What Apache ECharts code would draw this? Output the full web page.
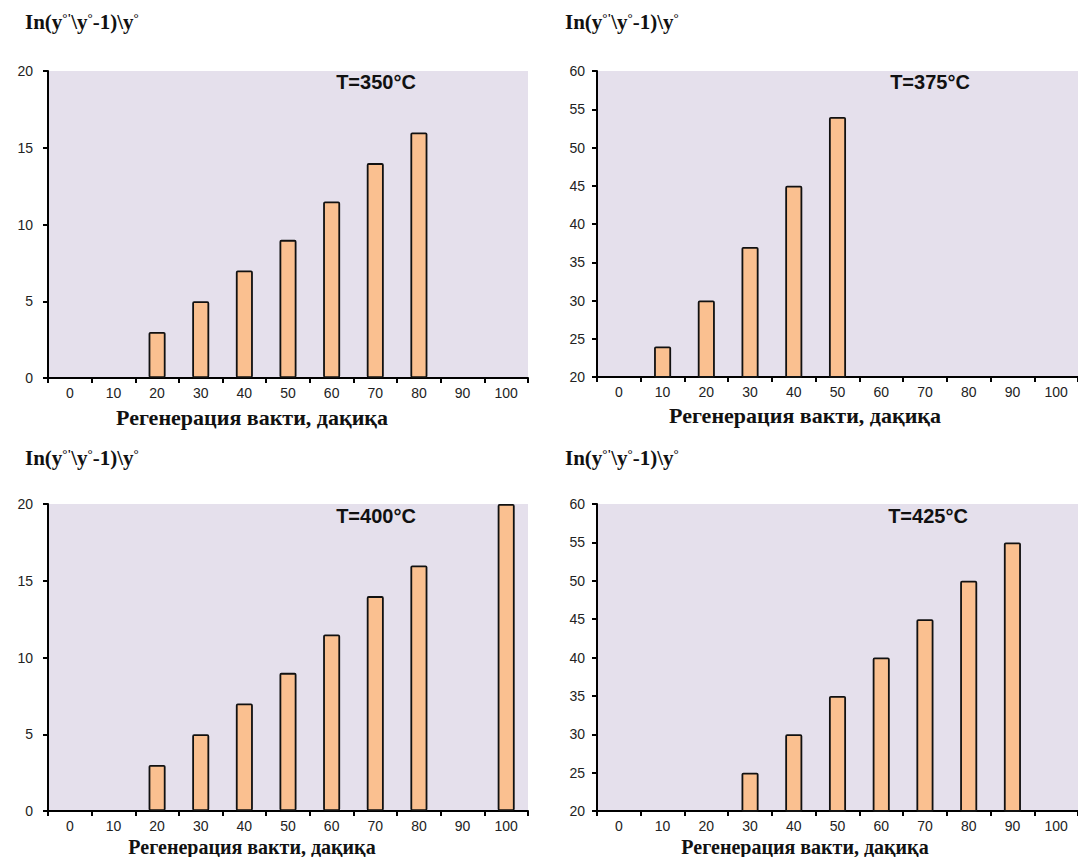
<!DOCTYPE html>
<html>
<head>
<meta charset="utf-8">
<script src="https://cdn.jsdelivr.net/npm/echarts@6/dist/echarts.min.js"></script>
<style>
  html, body { margin: 0; padding: 0; background: #fff; }
  #chart { width: 1078px; height: 857px; }
</style>
</head>
<body>
<div id="chart"></div>
<script>
// категории (регенерация вакти, дақиқа)
var categories = ['0', '10', '20', '30', '40', '50', '60', '70', '80', '90', '100'];

// T=350°C
var values350 = [null, null, 3, 5, 7, 9, 11.5, 14, 16, null, null];
// T=375°C
var values375 = [null, 24, 30, 37, 45, 54, null, null, null, null, null];
// T=400°C
var values400 = [null, null, 3, 5, 7, 9, 11.5, 14, 16, null, 20];
// T=425°C
var values425 = [null, null, null, 25, 30, 35, 40, 45, 50, 55, null];

var leftTicks = { min: 0, max: 20, interval: 5 };
var rightTicks = { min: 20, max: 60, interval: 5 };

var yTitle = 'In(y{s|°\'}\\y{s|°}-1)\\y{s|°}';
var xTitle = 'Регенерация вакти, дақиқа';
var panelTitles = ['T=350°C', 'T=375°C', 'T=400°C', 'T=425°C'];

var grids = [
    { left: 48, top: 71, width: 480, height: 307 },
    { left: 597, top: 71, width: 483, height: 306 },
    { left: 48, top: 504, width: 480, height: 307 },
    { left: 597, top: 504, width: 483, height: 307 }
];

var myChart = echarts.init(document.getElementById('chart'), null, { renderer: 'svg' });

function xAxisFor(i) {
    return {
        type: 'category',
        gridIndex: i,
        data: categories,
        axisLine: { lineStyle: { color: '#000', width: 2 } },
        axisTick: { show: true, length: 5, lineStyle: { color: '#000', width: 2 } },
        axisLabel: { color: '#222', fontFamily: 'Liberation Sans', fontSize: 14, margin: 8, interval: 0 },
        splitLine: { show: false }
    };
}

function yAxisFor(i, ticks, margin) {
    return {
        type: 'value',
        gridIndex: i,
        min: ticks.min,
        max: ticks.max,
        interval: ticks.interval,
        axisLine: { show: true, lineStyle: { color: '#000', width: 2 } },
        axisTick: { show: true, length: 5, lineStyle: { color: '#000', width: 2 } },
        axisLabel: { color: '#222', fontFamily: 'Liberation Sans', fontSize: 14, margin: margin },
        splitLine: { show: false }
    };
}

function barSeries(i, data) {
    return {
        type: 'bar',
        xAxisIndex: i,
        yAxisIndex: i,
        data: data,
        barWidth: '39%',
        itemStyle: { color: '#FAC090', borderColor: '#111', borderWidth: 1.8, borderRadius: 1 }
    };
}

var graphics = [];
// подписи осей и температуры
var yTitlePos = [[25, 23], [565, 23], [25, 459], [565, 459]];
var xTitlePos = [[252, 417], [805, 415], [252, 847], [805, 847]];
var tPos = [[376, 82], [930, 82], [376, 516], [928, 516]];
for (var k = 0; k < 4; k++) {
    graphics.push({
        type: 'text', left: yTitlePos[k][0], top: yTitlePos[k][1] - 12,
        style: {
            text: yTitle, fill: '#111',
            font: 'bold 21px "Liberation Serif"',
            rich: { s: { fontSize: 13, fontWeight: 'bold', fontFamily: 'Liberation Serif', fill: '#111', verticalAlign: 'top' } }
        }
    });
    graphics.push({
        type: 'text', x: xTitlePos[k][0], y: xTitlePos[k][1],
        style: {
            text: xTitle, fill: '#111', align: 'center', verticalAlign: 'middle',
            font: 'bold ' + (k < 2 ? 22 : 20) + 'px "Liberation Serif"'
        }
    });
    graphics.push({
        type: 'text', x: tPos[k][0], y: tPos[k][1],
        style: {
            text: panelTitles[k], fill: '#111', align: 'center', verticalAlign: 'middle',
            font: 'bold 20px "Liberation Sans"'
        }
    });
}

var option = {
    animation: false,
    backgroundColor: '#fff',
    grid: grids.map(function (g) {
        return { left: g.left, top: g.top, width: g.width, height: g.height,
                 show: true, backgroundColor: '#E5E0EC', borderWidth: 0, containLabel: false };
    }),
    xAxis: [xAxisFor(0), xAxisFor(1), xAxisFor(2), xAxisFor(3)],
    yAxis: [yAxisFor(0, leftTicks, 15), yAxisFor(1, rightTicks, 12),
            yAxisFor(2, leftTicks, 15), yAxisFor(3, rightTicks, 12)],
    series: [barSeries(0, values350), barSeries(1, values375),
             barSeries(2, values400), barSeries(3, values425)],
    graphic: graphics
};

myChart.setOption(option);
</script>
</body>
</html>
